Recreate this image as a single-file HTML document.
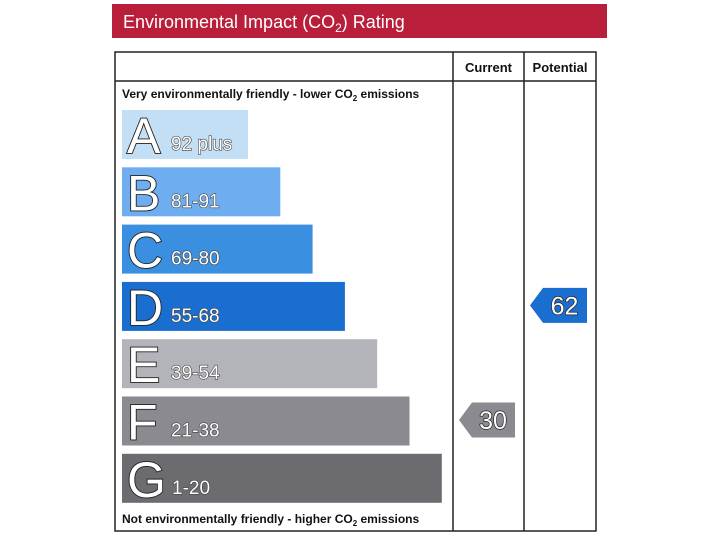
<!DOCTYPE html>
<html><head><meta charset="utf-8"><style>
html,body{margin:0;padding:0;background:#fff;width:720px;height:540px;overflow:hidden}
svg{display:block;font-family:"Liberation Sans",Arial,sans-serif}
</style></head><body>
<svg id="chart" width="720" height="540" viewBox="0 0 720 540">
<rect x="112" y="4" width="495" height="34" fill="#b91f3b"/>
<text x="123" y="28" font-size="18" fill="#fff">Environmental Impact (CO<tspan font-size="12" dy="4">2</tspan><tspan dy="-4">) Rating</tspan></text>
<g stroke="#222" stroke-width="1.5" fill="none">
<rect x="115" y="52" width="481" height="479"/>
<line x1="115" y1="81" x2="596" y2="81"/>
<line x1="453" y1="52" x2="453" y2="531"/>
<line x1="524" y1="52" x2="524" y2="531"/>
</g>
<text x="488.5" y="72" font-size="13" font-weight="bold" text-anchor="middle" fill="#111">Current</text>
<text x="560" y="72" font-size="13" font-weight="bold" text-anchor="middle" fill="#111">Potential</text>
<text x="122" y="98" font-size="12" font-weight="bold" fill="#111">Very environmentally friendly - lower CO<tspan font-size="8" dy="3">2</tspan><tspan dy="-3"> emissions</tspan></text>
<text x="122" y="523" font-size="12" font-weight="bold" fill="#111">Not environmentally friendly - higher CO<tspan font-size="8" dy="3">2</tspan><tspan dy="-3"> emissions</tspan></text>
<g id="bands"></g>
<g id="arrows"></g>
</svg>
<script>
const letters = ['A','B','C','D','E','F','G'];
const ranges = ['92 plus','81-91','69-80','55-68','39-54','21-38','1-20'];
const lowBounds = [92,81,69,55,39,21,1];
const bandColors = ['#c3dff5','#6eaef0','#3b8fe0','#1a6ed0','#b3b3ba','#8a8a90','#6b6b70'];
const currentRating = 30;
const potentialRating = 62;

const NS='http://www.w3.org/2000/svg';
const bandTop=110, bandStep=57.3, bandH=49, bandX=122, baseW=126, wStep=32.3;
function bandY(i){return bandTop+i*bandStep;}
function bandIndex(v){for(let i=0;i<lowBounds.length;i++){if(v>=lowBounds[i])return i;}return lowBounds.length-1;}
function mk(tag,attrs){const e=document.createElementNS(NS,tag);for(const k in attrs)e.setAttribute(k,attrs[k]);return e;}
const g=document.getElementById('bands');
letters.forEach((L,i)=>{
  const y=bandY(i);
  const r=mk('rect',{x:bandX,y:y,width:baseW+i*wStep,height:bandH,fill:bandColors[i]});
  
  
  g.appendChild(r);
  const t=mk('text',{x:bandX+5,y:y+bandH-6,'font-size':50,fill:'#fff',stroke:'#222','stroke-width':1.8,'paint-order':'stroke'});
  t.textContent=L;
  
  
  g.appendChild(t);
  const t2=mk('text',{x:L==='G'?172:171,y:y+bandH-9,'font-size':19,fill:'#fff',stroke:'#444','stroke-width':1.2,'paint-order':'stroke'});
  t2.textContent=ranges[i];
  
  
  g.appendChild(t2);
});
const ag=document.getElementById('arrows');
function arrow(v,x0,x1,name){
  const i=bandIndex(v);
  const cy=bandY(i)+bandH/2-1, h=35;
  const p=mk('polygon',{points:`${x0},${cy} ${x0+13},${cy-h/2} ${x1},${cy-h/2} ${x1},${cy+h/2} ${x0+13},${cy+h/2}`,fill:bandColors[i]});
  
  
  ag.appendChild(p);
  const t=mk('text',{x:(x0+x1)/2+6,y:cy+9,'font-size':25,'text-anchor':'middle',fill:'#fff',stroke:'#222','stroke-width':1.4,'paint-order':'stroke'});
  t.textContent=v;
  
  
  ag.appendChild(t);
}
arrow(currentRating,459,515,'current-rating');
arrow(potentialRating,530,587,'potential-rating');
</script>
</body></html>
